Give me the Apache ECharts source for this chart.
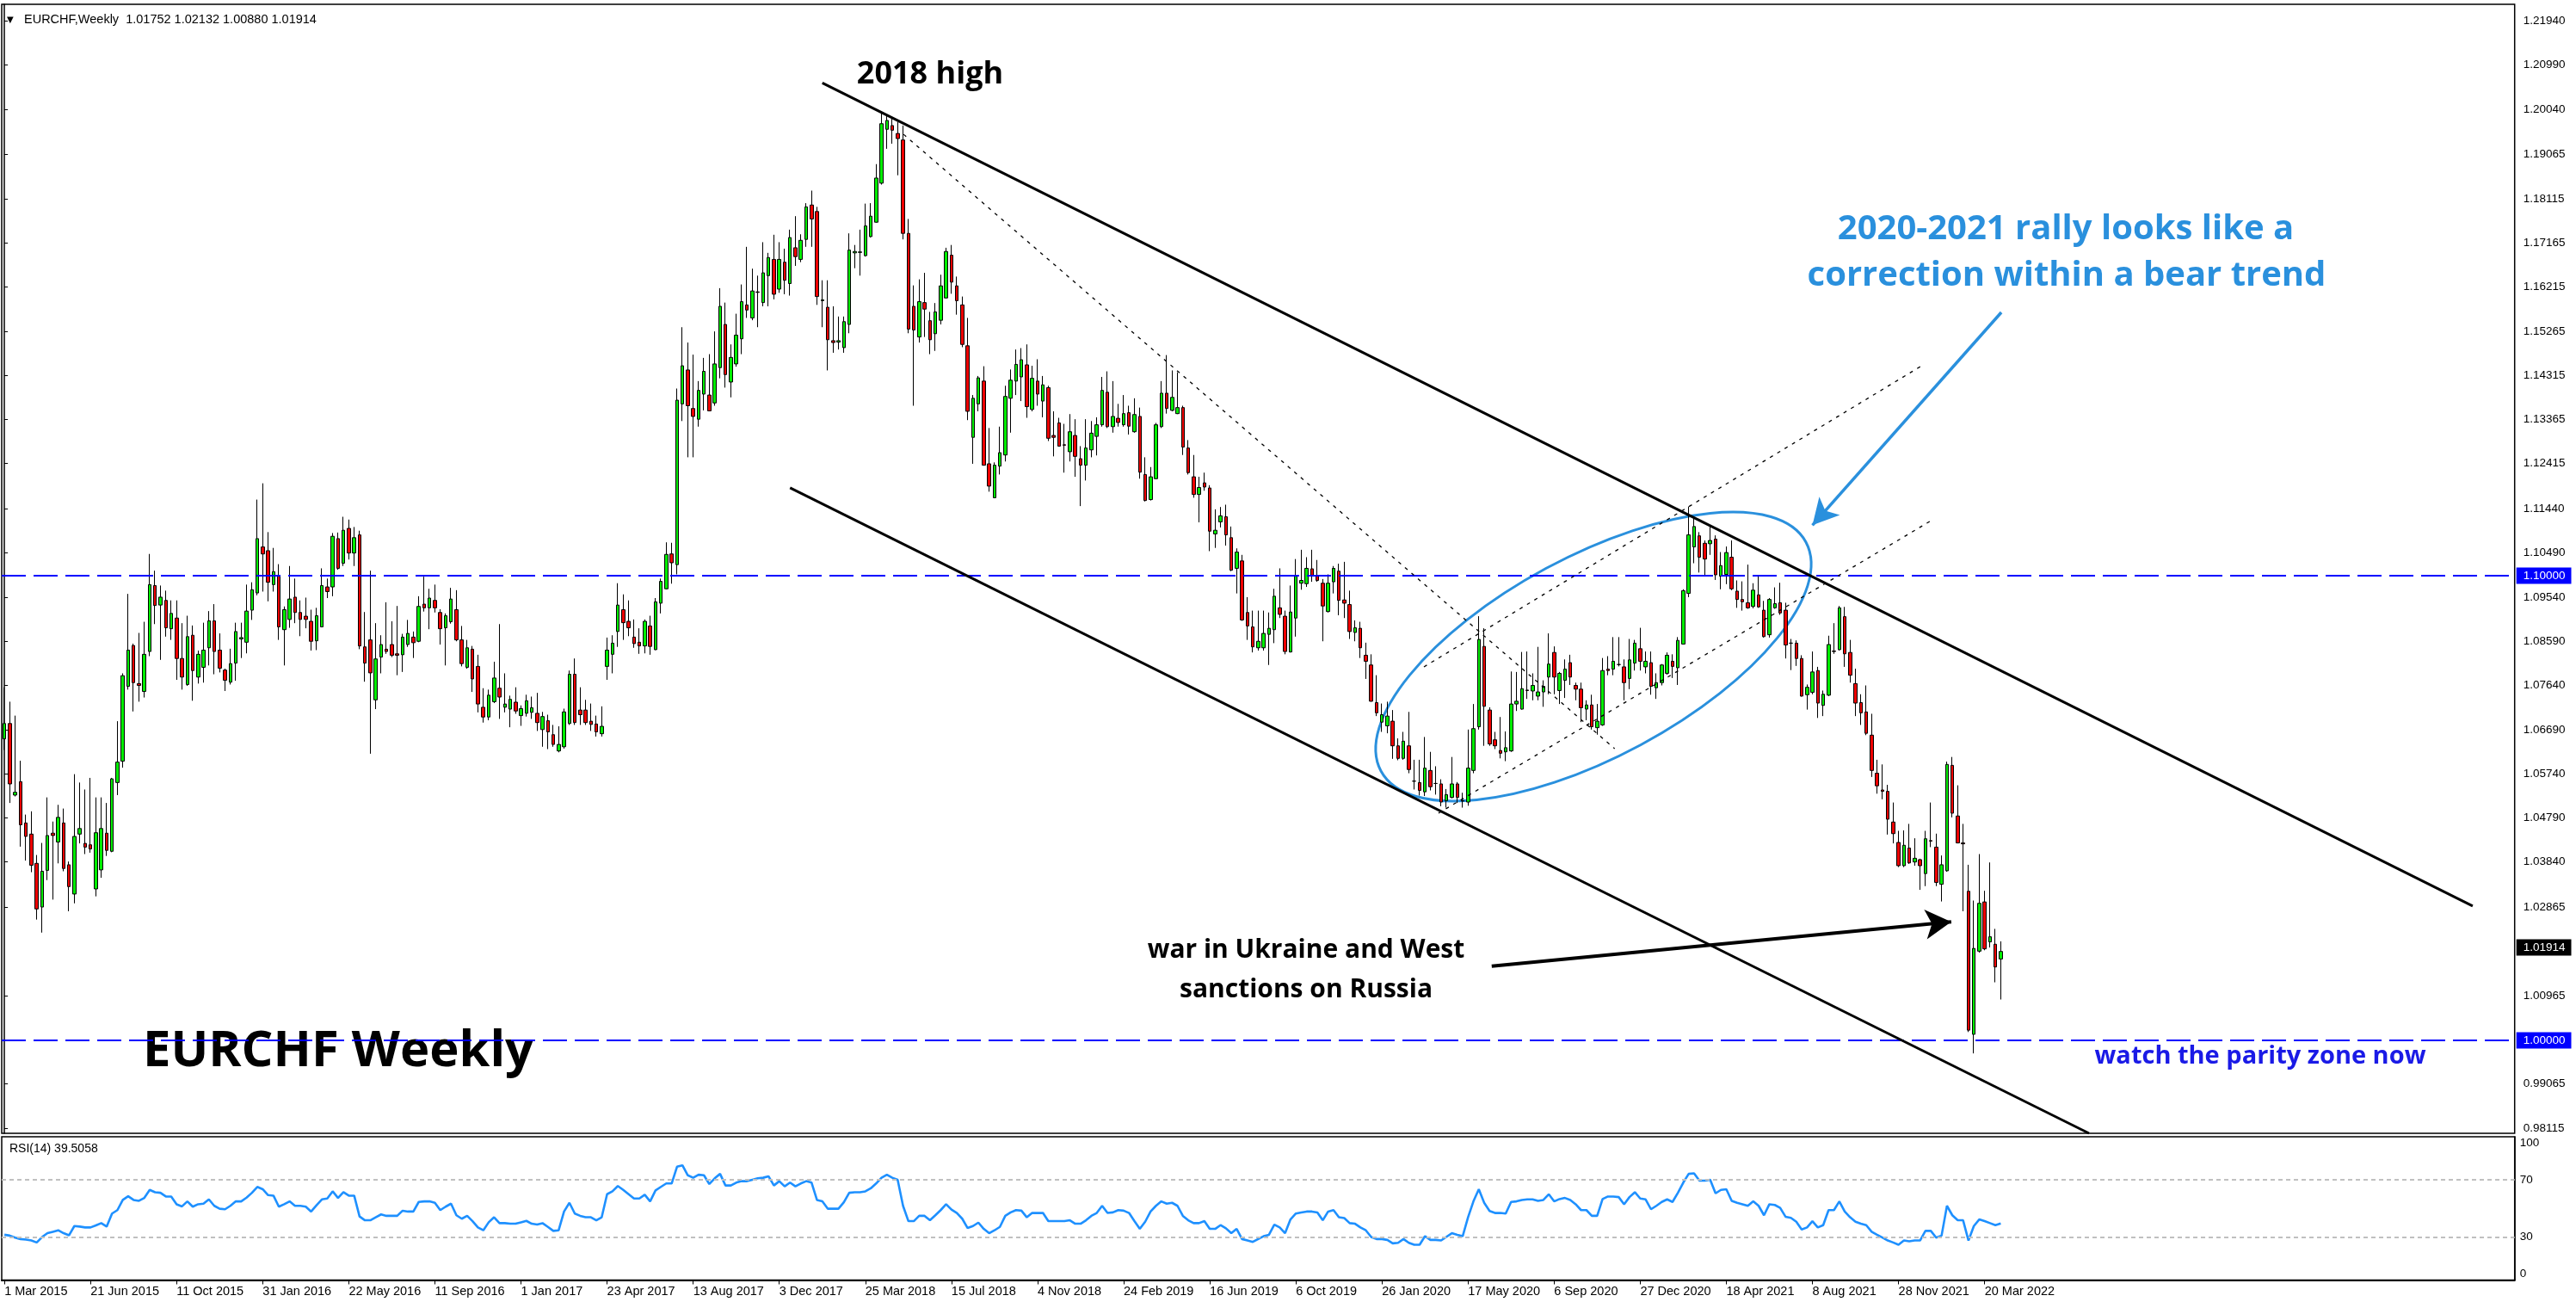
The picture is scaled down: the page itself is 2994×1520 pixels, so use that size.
<!DOCTYPE html>
<html><head><meta charset="utf-8">
<script src="https://cdn.jsdelivr.net/npm/echarts@6/dist/echarts.min.js"></script>
<style>html,body{margin:0;padding:0;background:#fff}#c{width:2994px;height:1520px}</style>
</head><body><div id="c"></div>
<script>
// ---------- DATA ----------
const tickLabels = ['1 Mar 2015','21 Jun 2015','11 Oct 2015','31 Jan 2016','22 May 2016','11 Sep 2016','1 Jan 2017','23 Apr 2017','13 Aug 2017','3 Dec 2017','25 Mar 2018','15 Jul 2018','4 Nov 2018','24 Feb 2019','16 Jun 2019','6 Oct 2019','26 Jan 2020','17 May 2020','6 Sep 2020','27 Dec 2020','18 Apr 2021','8 Aug 2021','28 Nov 2021','20 Mar 2022'];
const weeksPerLabel = 16;
const totalWeeks = 467; // weekly slots up to the right edge of the chart

const opens = [
1.0649,1.0682,1.0528,1.0557,1.0468,1.0444,1.0381,1.0287,1.0366,1.0446,
1.0427,1.0468,1.0378,1.0315,1.0444,1.0424,1.0421,1.0326,1.0367,1.0446,
1.0407,1.0555,1.0601,1.0762,1.0850,1.0768,1.0751,1.0837,1.0979,1.0937,
1.0947,1.0886,1.0909,1.0822,1.0766,1.0872,1.0782,1.0803,1.0845,1.0903,
1.0840,1.0797,1.0771,1.0812,1.0864,1.0857,1.0926,1.0963,1.1062,1.1054,
1.0981,1.0999,1.0884,1.0906,1.0954,1.0921,1.0913,1.0902,1.0860,1.0890,
1.0976,1.0976,1.1080,1.1027,1.1102,1.1049,1.1088,1.0847,1.0862,1.0733,
1.0825,1.0842,1.0852,1.0832,1.0830,1.0852,1.0868,1.0859,1.0939,1.0931,
1.0947,1.0921,1.0888,1.0901,1.0927,1.0862,1.0803,1.0842,1.0805,1.0717,
1.0696,1.0729,1.0758,1.0717,1.0713,1.0728,1.0699,1.0704,1.0706,1.0704,
1.0669,1.0688,1.0658,1.0623,1.0632,1.0682,1.0788,1.0711,1.0711,1.0687,
1.0681,1.0660,1.0805,1.0831,1.0880,1.0927,1.0902,1.0868,1.0857,1.0849,
1.0892,1.0841,1.0941,1.0972,1.1047,1.1024,1.1370,1.1443,1.1360,1.1337,
1.1391,1.1389,1.1372,1.1448,1.1541,1.1417,1.1456,1.1510,1.1583,1.1555,
1.1611,1.1588,1.1646,1.1681,1.1617,1.1675,1.1629,1.1706,1.1681,1.1724,
1.1798,1.1784,1.1592,1.1578,1.1506,1.1503,1.1491,1.1541,1.1695,1.1696,
1.1689,1.1730,1.1761,1.1845,1.1961,1.1969,1.1952,1.1938,1.1737,1.1580,
1.1514,1.1588,1.1549,1.1521,1.1550,1.1598,1.1690,1.1624,1.1583,1.1495,
1.1298,1.1370,1.1419,1.1241,1.1168,1.1236,1.1260,1.1382,1.1419,1.1428,
1.1454,1.1358,1.1419,1.1376,1.1405,1.1302,1.1329,1.1282,1.1267,1.1302,
1.1252,1.1238,1.1271,1.1300,1.1325,1.1395,1.1321,1.1339,1.1325,1.1351,
1.1310,1.1343,1.1218,1.1164,1.1209,1.1321,1.1393,1.1356,1.1349,1.1362,
1.1275,1.1213,1.1175,1.1200,1.1189,1.1090,1.1116,1.1127,1.1082,1.1016,
1.1032,1.0921,1.0890,1.0845,1.0845,1.0874,1.0884,1.0931,1.0913,1.0836,
1.0909,1.0984,1.0983,1.1015,1.1001,1.0984,1.0923,1.0987,1.1010,1.0948,
1.0938,1.0878,1.0887,1.0829,1.0808,1.0727,1.0685,1.0677,1.0687,1.0634,
1.0607,1.0634,1.0558,1.0555,1.0535,1.0581,1.0553,1.0552,1.0516,1.0523,
1.0552,1.0516,1.0513,1.0581,1.0675,1.0848,1.0711,1.0647,1.0624,1.0621,
1.0623,1.0724,1.0713,1.0754,1.0752,1.0741,1.0750,1.0782,1.0835,1.0753,
1.0775,1.0813,1.0764,1.0756,1.0713,1.0722,1.0673,1.0679,1.0799,1.0799,
1.0809,1.0804,1.0779,1.0812,1.0843,1.0804,1.0813,1.0759,1.0770,1.0790,
1.0816,1.0802,1.0853,1.0962,1.1062,1.1086,1.1070,1.1069,1.1079,1.0999,
1.1003,1.1040,1.0967,1.0949,1.0942,1.0934,1.0959,1.0926,1.0873,1.0931,
1.0942,1.0926,1.0855,1.0855,1.0822,1.0744,1.0749,1.0796,1.0721,1.0743,
1.0838,1.0841,1.0912,1.0835,1.0768,1.0727,1.0707,1.0657,1.0575,1.0539,
1.0536,1.0470,1.0426,1.0376,1.0414,1.0384,1.0389,1.0359,1.0430,1.0416,
1.0336,1.0365,1.0592,1.0483,1.0425,1.0321,1.0013,1.0192,1.0298,1.0212,
1.0207,1.01752];

const highs = [
1.0760,1.0729,1.0699,1.0602,1.0486,1.0493,1.0399,1.0425,1.0523,1.0471,
1.0507,1.0499,1.0385,1.0573,1.0555,1.0540,1.0565,1.0523,1.0523,1.0511,
1.0565,1.0687,1.0790,1.0961,1.0854,1.0877,1.0901,1.1047,1.1011,1.0979,
1.0968,1.0947,1.0947,1.0898,1.0914,1.0893,1.0839,1.0899,1.0924,1.0939,
1.0876,1.0800,1.0843,1.0899,1.0899,1.0981,1.0986,1.1164,1.1199,1.1094,
1.1060,1.1025,1.0934,1.1021,1.0994,1.0947,1.0953,1.0927,1.0931,1.1016,
1.0994,1.1092,1.1093,1.1127,1.1121,1.1105,1.1097,1.0922,1.1011,1.0898,
1.0872,1.0943,1.0902,1.0935,1.0875,1.0905,1.0880,1.0956,1.0998,1.0972,
1.0981,1.0928,1.0919,1.0974,1.0969,1.0892,1.0862,1.0849,1.0830,1.0758,
1.0755,1.0815,1.0896,1.0790,1.0742,1.0760,1.0721,1.0744,1.0740,1.0748,
1.0707,1.0701,1.0679,1.0676,1.0714,1.0796,1.0822,1.0760,1.0733,1.0725,
1.0699,1.0719,1.0867,1.0872,1.0984,1.0960,1.0947,1.0906,1.0887,1.0906,
1.0914,1.0952,1.0994,1.1072,1.1071,1.1403,1.1535,1.1502,1.1476,1.1419,
1.1469,1.1477,1.1526,1.1619,1.1588,1.1498,1.1564,1.1627,1.1708,1.1661,
1.1646,1.1718,1.1695,1.1734,1.1718,1.1704,1.1745,1.1774,1.1735,1.1802,
1.1829,1.1794,1.1636,1.1636,1.1580,1.1558,1.1558,1.1737,1.1712,1.1745,
1.1801,1.1802,1.1886,1.1996,1.1994,1.1984,1.1977,1.1969,1.1768,1.1625,
1.1638,1.1652,1.1568,1.1587,1.1648,1.1706,1.1712,1.1644,1.1601,1.1555,
1.1389,1.1430,1.1451,1.1318,1.1244,1.1321,1.1409,1.1444,1.1487,1.1490,
1.1498,1.1452,1.1466,1.1430,1.1409,1.1354,1.1340,1.1327,1.1348,1.1337,
1.1279,1.1337,1.1333,1.1341,1.1428,1.1440,1.1419,1.1370,1.1389,1.1366,
1.1382,1.1362,1.1255,1.1234,1.1329,1.1419,1.1475,1.1442,1.1438,1.1366,
1.1292,1.1260,1.1213,1.1222,1.1195,1.1143,1.1148,1.1153,1.1106,1.1059,
1.1045,1.0954,1.0925,1.0925,1.0925,1.0921,1.0972,1.1016,1.0925,1.0979,
1.1036,1.1056,1.1040,1.1056,1.1034,1.0993,1.1003,1.1021,1.1026,1.1030,
1.0968,1.0904,1.0901,1.0856,1.0831,1.0786,1.0725,1.0729,1.0711,1.0650,
1.0664,1.0707,1.0604,1.0604,1.0653,1.0621,1.0590,1.0562,1.0541,1.0610,
1.0556,1.0533,1.0669,1.0724,1.0913,1.0887,1.0717,1.0664,1.0696,1.0665,
1.0794,1.0793,1.0836,1.0837,1.0790,1.0847,1.0775,1.0876,1.0848,1.0793,
1.0820,1.0830,1.0770,1.0770,1.0732,1.0744,1.0724,1.0823,1.0827,1.0868,
1.0868,1.0820,1.0864,1.0862,1.0888,1.0837,1.0837,1.0790,1.0810,1.0835,
1.0831,1.0868,1.0971,1.1149,1.1126,1.1094,1.1076,1.1107,1.1087,1.1051,
1.1063,1.1076,1.0990,1.0988,1.1024,1.0984,1.1000,1.0946,1.0952,1.0975,
1.0985,1.0942,1.0864,1.0861,1.0829,1.0766,1.0837,1.0804,1.0753,1.0871,
1.0898,1.0935,1.0933,1.0862,1.0800,1.0745,1.0764,1.0703,1.0604,1.0594,
1.0550,1.0512,1.0451,1.0452,1.0466,1.0435,1.0391,1.0451,1.0512,1.0445,
1.0398,1.0600,1.0610,1.0549,1.0466,1.0378,1.0301,1.0401,1.0322,1.0383,
1.0240,1.02132];

const lows = [
1.0625,1.0511,1.0525,1.0417,1.0387,1.0362,1.0260,1.0232,1.0345,1.0303,
1.0381,1.0364,1.0278,1.0295,1.0424,1.0401,1.0404,1.0310,1.0350,1.0397,
1.0405,1.0528,1.0587,1.0755,1.0708,1.0729,1.0738,1.0827,1.0896,1.0819,
1.0869,1.0862,1.0776,1.0755,1.0763,1.0731,1.0768,1.0770,1.0807,1.0788,
1.0792,1.0752,1.0766,1.0774,1.0823,1.0833,1.0905,1.0958,1.0966,1.0945,
1.0966,1.0862,1.0807,1.0888,1.0898,1.0870,1.0887,1.0839,1.0840,1.0889,
1.0952,1.0956,1.1013,1.1021,1.1035,1.1021,1.0842,1.0772,1.0617,1.0713,
1.0790,1.0832,1.0825,1.0786,1.0793,1.0847,1.0823,1.0857,1.0923,1.0885,
1.0921,1.0852,1.0807,1.0897,1.0859,1.0805,1.0800,1.0750,1.0706,1.0684,
1.0689,1.0726,1.0692,1.0706,1.0674,1.0703,1.0677,1.0697,1.0692,1.0666,
1.0632,1.0627,1.0632,1.0620,1.0628,1.0679,1.0679,1.0679,1.0679,1.0666,
1.0654,1.0654,1.0776,1.0790,1.0847,1.0862,1.0870,1.0845,1.0832,1.0833,
1.0830,1.0840,1.0919,1.0971,1.0983,1.1003,1.1333,1.1255,1.1255,1.1321,
1.1356,1.1354,1.1366,1.1425,1.1405,1.1384,1.1450,1.1477,1.1555,1.1550,
1.1535,1.1580,1.1580,1.1595,1.1609,1.1606,1.1603,1.1667,1.1675,1.1708,
1.1708,1.1583,1.1535,1.1442,1.1480,1.1487,1.1480,1.1522,1.1662,1.1646,
1.1687,1.1728,1.1760,1.1842,1.1919,1.1930,1.1862,1.1724,1.1522,1.1366,
1.1502,1.1514,1.1477,1.1484,1.1541,1.1597,1.1607,1.1562,1.1492,1.1335,
1.1241,1.1354,1.1237,1.1181,1.1167,1.1218,1.1246,1.1308,1.1389,1.1376,
1.1340,1.1354,1.1366,1.1341,1.1290,1.1257,1.1278,1.1222,1.1246,1.1213,
1.1150,1.1205,1.1255,1.1259,1.1321,1.1318,1.1308,1.1321,1.1321,1.1304,
1.1308,1.1209,1.1160,1.1162,1.1208,1.1318,1.1349,1.1354,1.1348,1.1260,
1.1218,1.1168,1.1115,1.1183,1.1053,1.1060,1.1104,1.1065,1.1010,1.0962,
1.0903,1.0862,1.0835,1.0839,1.0839,1.0808,1.0855,1.0909,1.0831,1.0835,
1.0869,1.0970,1.0976,1.0987,1.0987,1.0859,1.0921,1.0962,1.0915,1.0909,
1.0864,1.0859,1.0823,1.0778,1.0729,1.0698,1.0664,1.0661,1.0606,1.0603,
1.0604,1.0575,1.0540,1.0527,1.0526,1.0538,1.0529,1.0504,1.0501,1.0521,
1.0511,1.0501,1.0505,1.0575,1.0669,1.0634,1.0634,1.0627,1.0607,1.0601,
1.0621,1.0709,1.0712,1.0735,1.0732,1.0732,1.0718,1.0745,1.0745,1.0724,
1.0737,1.0765,1.0732,1.0685,1.0689,1.0669,1.0658,1.0677,1.0786,1.0786,
1.0805,1.0732,1.0756,1.0796,1.0796,1.0790,1.0744,1.0735,1.0764,1.0787,
1.0780,1.0765,1.0852,1.0954,1.1027,1.1007,1.1002,1.1045,1.0991,1.0971,
1.0982,1.0969,1.0931,1.0925,1.0929,1.0930,1.0931,1.0867,1.0867,1.0929,
1.0916,1.0822,1.0797,1.0806,1.0740,1.0712,1.0745,1.0694,1.0698,1.0741,
1.0832,1.0839,1.0804,1.0770,1.0698,1.0679,1.0657,1.0567,1.0531,1.0519,
1.0443,1.0424,1.0373,1.0373,1.0380,1.0376,1.0324,1.0332,1.0416,1.0332,
1.0299,1.0363,1.0480,1.0424,1.0278,1.0018,0.9972,1.0189,1.0194,1.0200,
1.0125,1.00880];

const closes = [
1.0682,1.0552,1.0534,1.0464,1.0439,1.0377,1.0283,1.0364,1.0441,1.0441,
1.0480,1.0370,1.0331,1.0439,1.0456,1.0416,1.0412,1.0447,1.0456,1.0409,
1.0563,1.0599,1.0785,1.0840,1.0770,1.0764,1.0831,1.0981,1.0936,1.0954,
1.0888,1.0919,1.0822,1.0782,1.0869,1.0796,1.0831,1.0840,1.0903,1.0837,
1.0801,1.0775,1.0811,1.0880,1.0867,1.0924,1.0970,1.1080,1.1047,1.0986,
1.1009,1.0890,1.0927,1.0950,1.0921,1.0906,1.0906,1.0859,1.0914,1.0979,
1.0966,1.1085,1.1016,1.1098,1.1049,1.1082,1.0849,1.0812,1.0791,1.0821,
1.0852,1.0837,1.0829,1.0829,1.0868,1.0876,1.0856,1.0934,1.0931,1.0952,
1.0931,1.0886,1.0914,1.0950,1.0862,1.0811,1.0845,1.0778,1.0724,1.0696,
1.0743,1.0780,1.0739,1.0724,1.0734,1.0709,1.0714,1.0731,1.0716,1.0684,
1.0697,1.0664,1.0637,1.0637,1.0707,1.0788,1.0684,1.0701,1.0684,1.0680,
1.0664,1.0676,1.0840,1.0855,1.0937,1.0899,1.0888,1.0854,1.0849,1.0902,
1.0848,1.0944,1.0988,1.1046,1.1028,1.1378,1.1452,1.1366,1.1343,1.1399,
1.1440,1.1355,1.1456,1.1580,1.1433,1.1470,1.1518,1.1590,1.1572,1.1613,
1.1610,1.1652,1.1685,1.1606,1.1681,1.1636,1.1728,1.1687,1.1722,1.1794,
1.1768,1.1601,1.1594,1.1508,1.1502,1.1506,1.1547,1.1701,1.1698,1.1697,
1.1753,1.1774,1.1856,1.1973,1.1980,1.1959,1.1941,1.1737,1.1531,1.1529,
1.1590,1.1574,1.1508,1.1568,1.1624,1.1698,1.1632,1.1592,1.1498,1.1354,
1.1382,1.1426,1.1238,1.1193,1.1238,1.1265,1.1386,1.1421,1.1455,1.1465,
1.1364,1.1425,1.1391,1.1411,1.1296,1.1298,1.1279,1.1281,1.1310,1.1257,
1.1238,1.1275,1.1307,1.1325,1.1399,1.1321,1.1343,1.1330,1.1349,1.1322,
1.1347,1.1223,1.1162,1.1213,1.1325,1.1393,1.1360,1.1384,1.1362,1.1277,
1.1222,1.1175,1.1190,1.1191,1.1096,1.1098,1.1129,1.1088,1.1012,1.1051,
1.0905,1.0892,1.0847,1.0859,1.0876,1.0887,1.0956,1.0917,1.0837,1.0922,
1.0999,1.0990,1.1016,1.1001,1.0990,1.0935,1.0984,1.1016,1.0947,1.0941,
1.0880,1.0888,1.0845,1.0816,1.0730,1.0705,1.0701,1.0698,1.0634,1.0607,
1.0644,1.0583,1.0558,1.0538,1.0586,1.0546,1.0553,1.0513,1.0529,1.0552,
1.0523,1.0515,1.0586,1.0671,1.0863,1.0719,1.0638,1.0634,1.0618,1.0630,
1.0724,1.0730,1.0757,1.0753,1.0764,1.0750,1.0762,1.0810,1.0782,1.0790,
1.0799,1.0782,1.0756,1.0716,1.0722,1.0675,1.0687,1.0796,1.0796,1.0816,
1.0809,1.0770,1.0819,1.0855,1.0816,1.0816,1.0762,1.0770,1.0808,1.0829,
1.0805,1.0861,1.0968,1.1088,1.1106,1.1040,1.1036,1.1076,1.1002,1.1022,
1.1050,1.0972,1.0949,1.0944,1.0931,1.0969,1.0933,1.0869,1.0949,1.0940,
1.0920,1.0851,1.0855,1.0822,1.0741,1.0760,1.0793,1.0726,1.0745,1.0852,
1.0837,1.0931,1.0832,1.0786,1.0726,1.0705,1.0661,1.0581,1.0548,1.0536,
1.0476,1.0445,1.0376,1.0420,1.0382,1.0392,1.0376,1.0434,1.0429,1.0340,
1.0378,1.0594,1.0489,1.0425,1.0423,1.0022,1.0198,1.0295,1.0197,1.0223,
1.0158,1.01914];

const rsi14 = [
31.6,31.0,29.6,28.6,28.2,27.6,26.2,30.0,32.7,33.7,
34.7,32.7,31.2,37.7,37.3,36.7,36.7,38.1,39.7,37.3,
46.4,48.8,55.9,58.5,55.9,55.3,57.3,62.9,61.3,60.9,
58.3,58.3,52.9,51.4,54.9,51.2,52.9,53.3,56.3,51.8,
49.8,49.4,51.8,54.9,54.9,57.5,60.9,65.0,63.4,59.3,
58.9,51.2,52.9,54.9,51.8,51.8,51.2,47.8,52.2,56.3,
56.9,61.9,57.3,61.3,58.9,58.9,44.4,41.7,41.7,43.8,
45.8,44.8,44.8,44.8,48.4,47.8,47.8,54.5,54.9,54.9,
53.9,48.8,51.2,53.3,45.2,42.8,44.8,41.1,36.7,34.7,
40.3,43.8,39.7,39.7,39.3,39.3,40.3,41.3,39.3,38.7,
39.7,37.1,34.3,34.7,47.8,53.9,46.4,44.8,43.8,43.8,
41.7,43.8,59.9,61.9,65.6,62.9,59.9,56.9,56.9,59.5,
54.9,62.5,65.0,67.4,67.4,79.1,80.1,73.1,71.4,73.5,
73.1,67.0,71.0,74.1,66.0,66.0,68.0,69.0,69.0,70.0,
71.0,71.4,72.4,66.0,69.0,65.4,68.0,65.4,67.4,69.0,
68.0,55.9,54.9,49.8,49.8,49.8,54.3,60.9,61.3,61.3,
61.9,64.0,67.4,71.4,73.5,71.4,70.0,51.8,41.1,41.1,
44.8,44.8,41.7,45.2,48.8,52.9,49.2,46.8,42.8,36.3,
37.7,40.1,35.7,32.7,34.7,37.1,44.8,47.2,48.8,48.4,
43.8,46.8,46.8,46.8,41.1,41.1,41.1,41.1,41.7,39.3,
39.3,41.7,44.8,46.8,51.8,46.8,47.2,48.8,48.4,46.8,
41.1,35.7,40.7,47.8,51.8,54.9,53.3,53.9,51.8,44.8,
41.7,39.7,39.7,41.1,35.7,35.7,38.3,36.1,32.7,35.7,
28.6,27.6,26.6,28.6,30.6,31.6,38.7,36.7,32.7,42.3,
46.4,47.2,47.8,47.8,47.2,41.7,47.8,48.8,43.8,43.2,
39.7,39.3,36.7,34.7,30.0,28.6,28.6,28.0,25.6,26.0,
28.6,26.0,24.6,24.6,30.6,28.0,28.0,27.6,30.2,32.7,
31.6,30.6,43.8,54.9,63.4,53.9,48.2,46.8,46.8,46.4,
54.5,54.9,55.9,56.3,56.3,55.3,55.9,59.9,54.9,56.5,
57.3,55.9,52.9,48.8,48.8,44.8,44.8,56.5,58.3,58.3,
57.9,52.9,57.9,61.3,56.9,56.3,49.4,51.8,54.5,56.3,
54.5,60.9,68.0,74.1,74.5,69.4,69.4,70.0,60.5,62.9,
63.4,55.3,53.9,52.9,51.8,54.9,51.8,45.2,52.9,52.4,
50.4,44.2,43.4,40.7,35.3,36.7,41.1,36.7,38.3,48.8,
48.8,54.9,47.8,43.8,40.7,39.3,38.3,33.7,31.6,29.6,
27.6,26.2,24.6,27.6,27.0,27.6,27.6,34.3,34.3,29.6,
31.0,51.8,45.2,41.7,41.7,27.6,37.7,42.3,41.1,39.7,
38.3,39.5058];

const priceTicks = [0.98115,0.99065,1.00965,1.02865,1.03840,1.04790,1.05740,1.06690,1.07640,1.08590,1.09540,1.10490,1.11440,1.12415,1.13365,1.14315,1.15265,1.16215,1.17165,1.18115,1.19065,1.20040,1.20990,1.21940];
const rsiTicks = [0, 30, 70, 100];
const levelLines = [1.10000, 1.00000];   // blue dashed levels
const lastPrice = 1.01914;
const header = 'EURCHF,Weekly  1.01752 1.02132 1.00880 1.01914';

// annotation lines in data space: [weekIndex, price]
const upperChannel = [[152.0, 1.20609], [458.7, 1.02891]];
const lowerChannel = [[146.0, 1.11895], [387.4, 0.98000]];
const fallFromHigh = [[167.1, 1.19501], [299.25, 1.06279]];
const corrUpper = [[263.8, 1.08039], [356.06, 1.14503]];
const corrLower = [[266.5, 1.04890], [358.6, 1.11224]];
const warArrow = [[276.4, 1.01597], [361.8, 1.02551]];
const rallyArrow = [[371.1, 1.15669], [336.0, 1.11089]];

// ---------- CHART ----------
const FONT = '"Liberation Sans", Arial, sans-serif';
const cats = []; for (let i = 0; i < totalWeeks; i++) cats.push(String(i));
const candles = opens.map((o, i) => [o, closes[i], lows[i], highs[i]]);
const isTick = (i) => i % weeksPerLabel === 0 && i / weeksPerLabel < tickLabels.length;

const chart = echarts.init(document.getElementById('c'), null, {renderer: 'canvas', width: 2994, height: 1520});

function seg(pts, style, endSym) {
  const a = {coord: pts[0], symbol: 'none', lineStyle: style};
  const b = {coord: pts[1], symbol: endSym ? 'arrow' : 'none'};
  if (endSym) b.symbolSize = endSym;
  return [a, b];
}
const blueAnn = '#2a90dd';
const boxLabel = (txt, bg) => ({show: true, position: 'end', distance: 2, formatter: txt, color: '#fff', backgroundColor: bg, padding: [3, 7, 2, 8], fontSize: 13.5, fontFamily: FONT});

const option = {
  animation: false,
  backgroundColor: '#ffffff',
  grid: [
    {left: 2, top: 5, width: 2920.7, height: 1312, show: true, borderColor: '#000', borderWidth: 1.5, backgroundColor: 'transparent', containLabel: false, outerBoundsMode: 'none'},
    {left: 2, top: 1321, width: 2920.7, height: 166.5, show: true, borderColor: '#000', borderWidth: 1.5, backgroundColor: 'transparent', containLabel: false, outerBoundsMode: 'none'}
  ],
  xAxis: [
    {type: 'category', gridIndex: 0, data: cats, boundaryGap: true, show: false},
    {type: 'category', gridIndex: 1, data: cats, boundaryGap: true,
     axisLine: {show: true, lineStyle: {color: '#000', width: 2}},
     axisTick: {show: true, alignWithLabel: true, interval: (i) => isTick(i), length: 5, lineStyle: {color: '#000', width: 1}},
     axisLabel: {show: true, interval: (i) => isTick(i),
       formatter: (v, i) => isTick(i) ? tickLabels[i / weeksPerLabel] : '',
       align: 'left', color: '#000', fontSize: 14.5, fontFamily: FONT, margin: 6},
     splitLine: {show: false}},
    {type: 'value', gridIndex: 0, min: -0.5, max: totalWeeks - 0.5, show: false}
  ],
  yAxis: [
    {type: 'value', gridIndex: 0, position: 'right', min: 0.98, max: 1.2230,
     axisLine: {show: true, lineStyle: {color: '#000', width: 1.5}},
     axisTick: {show: true, length: 4, customValues: priceTicks, lineStyle: {color: '#000'}},
     axisLabel: {show: true, customValues: priceTicks, formatter: (v) => v.toFixed(5), color: '#000', fontSize: 13.5, fontFamily: FONT, margin: 10},
     splitLine: {show: false}},
    {type: 'value', gridIndex: 1, position: 'right', min: 0, max: 100,
     axisLine: {show: true, lineStyle: {color: '#000', width: 1.5}},
     axisTick: {show: false},
     axisLabel: {show: true, customValues: rsiTicks, color: '#000', fontSize: 13.5, fontFamily: FONT, margin: 6,
       verticalAlignMaxLabel: 'top', verticalAlignMinLabel: 'bottom'},
     splitLine: {show: false}}
  ],
  series: [
    {type: 'candlestick', xAxisIndex: 0, yAxisIndex: 0, data: candles, barWidth: 4,
     itemStyle: {color: '#00ee00', color0: '#ee0000', borderColor: '#000', borderColor0: '#000', borderColorDoji: '#000', borderWidth: 1},
     markLine: {silent: true, symbol: ['none', 'none'], animation: false,
       data: [
         ...levelLines.map(v => ({yAxis: v, lineStyle: {color: '#0000ff', width: 2, type: [28, 9]}, label: boxLabel(v.toFixed(5), '#0000ff')})),
         {yAxis: lastPrice, lineStyle: {color: 'rgba(255,255,255,0.01)', width: 1, type: 'solid'}, label: boxLabel(lastPrice.toFixed(5), '#000000')}
       ]}},
    {type: 'line', xAxisIndex: 2, yAxisIndex: 0, data: [[-0.5, null]], showSymbol: false, silent: true,
     lineStyle: {opacity: 0},
     markLine: {silent: true, symbol: ['none', 'none'], animation: false, label: {show: false},
       data: [
         seg(upperChannel, {color: '#000', width: 3, type: 'solid'}),
         seg(lowerChannel, {color: '#000', width: 3, type: 'solid'}),
         seg(fallFromHigh, {color: '#000', width: 1.3, type: [4, 6]}),
         seg(corrUpper, {color: '#000', width: 1.3, type: [4, 6]}),
         seg(corrLower, {color: '#000', width: 1.3, type: [4, 6]}),
         seg(warArrow, {color: '#000', width: 4, type: 'solid'}, [26, 30]),
         seg(rallyArrow, {color: blueAnn, width: 3.5, type: 'solid'}, [24, 30])
       ]}},
    {type: 'line', xAxisIndex: 1, yAxisIndex: 1, data: rsi14, showSymbol: false, silent: true,
     lineStyle: {color: '#1e90ff', width: 2.6},
     markLine: {silent: true, symbol: ['none', 'none'], animation: false, label: {show: false},
       data: [{yAxis: 70}, {yAxis: 30}], lineStyle: {color: '#c0c0c0', width: 2, type: [5, 4]}}}
  ],
  graphic: [
    {type: 'text', x: 8, y: 23, style: {text: '\u25BC', font: '10px "DejaVu Sans"', fill: '#000', verticalAlign: 'middle'}},
    {type: 'text', x: 28, y: 23, style: {text: header, font: '14.5px ' + FONT, fill: '#000', verticalAlign: 'middle'}},
    {type: 'text', x: 11, y: 1335, style: {text: 'RSI(14) 39.5058', font: '14px ' + FONT, fill: '#000', verticalAlign: 'middle'}},
    {type: 'text', x: 1081, y: 87, style: {text: '2018 high', font: 'bold 36px "Open Sans"', fill: '#000', align: 'center', verticalAlign: 'middle'}},
    {type: 'text', x: 166, y: 1222, style: {text: 'EURCHF Weekly', font: 'bold 58px "Open Sans"', fill: '#000', align: 'left', verticalAlign: 'middle'}},
    {type: 'text', x: 2401, y: 267, style: {text: '2020-2021 rally looks like a', font: 'bold 40px "Open Sans"', fill: blueAnn, align: 'center', verticalAlign: 'middle'}},
    {type: 'text', x: 2402, y: 321, style: {text: 'correction within a bear trend', font: 'bold 40px "Open Sans"', fill: blueAnn, align: 'center', verticalAlign: 'middle'}},
    {type: 'text', x: 1518, y: 1104, style: {text: 'war in Ukraine and West', font: 'bold 30px "Open Sans"', fill: '#000', align: 'center', verticalAlign: 'middle'}},
    {type: 'text', x: 1518, y: 1150, style: {text: 'sanctions on Russia', font: 'bold 30px "Open Sans"', fill: '#000', align: 'center', verticalAlign: 'middle'}},
    {type: 'text', x: 2627, y: 1228, style: {text: 'watch the parity zone now', font: 'bold 29px "Open Sans"', fill: '#1a1ae6', align: 'center', verticalAlign: 'middle'}},
    {type: 'ellipse', x: 1852, y: 763, rotation: 0.494, shape: {cx: 0, cy: 0, rx: 280.5, ry: 116.4}, style: {fill: 'none', stroke: blueAnn, lineWidth: 3}}
  ]
};
chart.setOption(option);
</script>
</body></html>
